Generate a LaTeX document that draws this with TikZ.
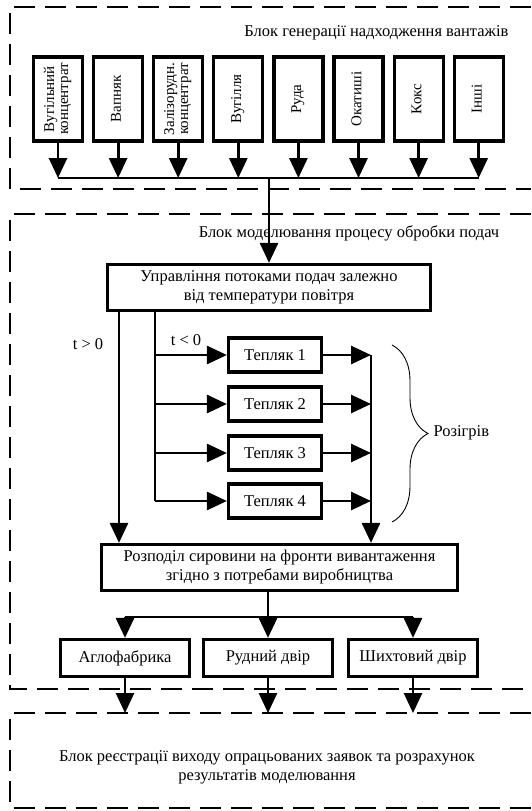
\documentclass[tikz,border=0pt]{standalone}
\usepackage{fontspec}
\setmainfont{Liberation Serif}
\usepackage{graphicx}
\usetikzlibrary{arrows.meta}
\usetikzlibrary{calc}
\usetikzlibrary{decorations.pathreplacing}

\tikzset{
  box/.style={draw, line width=3.2pt, align=center, inner sep=0pt},
  srcbox/.style={box, minimum width=49pt, minimum height=84pt, font=\fontsize{15}{14}\selectfont},
  teplbox/.style={box, minimum width=93pt, minimum height=34pt},
  outbox/.style={box, minimum width=129pt, minimum height=37pt},
  flow/.style={line width=2.8pt},
  arr/.style={flow, -{Triangle[length=20pt,width=18pt]}},
  zone/.style={line width=2.6pt, dash pattern=on 21pt off 10pt},
}

\begin{document}
\begin{tikzpicture}[x=1pt, y=-1pt, font=\fontsize{16.5}{19}\selectfont]
\useasboundingbox (0,0) rectangle (531,811);
% dashed blocks
\draw[zone] (531,7) -| (10,189) -- (531,189);
\draw[zone] (531,214) -| (10,689) -- (531,689);
\draw[zone] (531,713) -| (10,808) -- (531,808);
\node[anchor=east] (gentitle) at (512,33) {Блок генерації надходження вантажів};
\node (modtitle) at (349,233) {Блок моделювання процесу обробки подач};
\node[align=center] (regtitle) at (267,767) {Блок реєстрації виходу опрацьованих заявок та розрахунок\\результатів моделювання};

% sources
\foreach \n/\t in {1/{Вугільний\\концентрат}, 2/Вапняк, 3/{Залізорудн.\\концентрат}, 4/Вугілля, 5/Руда, 6/Окатиші, 7/Кокс, 8/Інші}
  \node[srcbox] (s\n) at ({58+60.1*(\n-1)},99) {\rotatebox{90}{\begin{tabular}{@{}c@{}}\t\end{tabular}}};
\coordinate (bus) at (269,178);
\foreach \n in {1,...,8}
  \draw[arr] (s\n.south) -- (s\n.south |- bus);
\draw[flow] (s1.south |- bus) -- (s8.south |- bus);

% control of flows
\node[box, minimum width=323pt, minimum height=46pt] (ctrl) at (269,287.5) {Управління потоками подач залежно\\від температури повітря};
\draw[arr] (bus) -- (ctrl.north);

\foreach \n/\y in {1/355,2/404,3/453,4/501}
  \node[teplbox] (t\n) at (275,\y) {Тепляк \n};
\coordinate (warm) at (119,312);
\coordinate (cold) at (155,312);
\coordinate (heat) at (371,355);
\node[box, minimum width=356pt, minimum height=46pt] (distr) at (279.5,567.5) {Розподіл сировини на фронти вивантаження\\згідно з потребами виробництва};
\draw[arr] (ctrl.south -| warm) -- (distr.north -| warm);
\draw[flow] (ctrl.south -| cold) -- (cold |- t4.west);
\foreach \n in {1,...,4} {
  \draw[arr] (cold |- t\n.west) -- (t\n.west);
  \draw[arr] (t\n.east) -- (heat |- t\n.east);
}
\draw[arr] (heat) -- (distr.north -| heat);
\node (tpos) at (88,344) {t > 0};
\node (tneg) at (186,340) {t < 0};
\draw[line width=0.9pt, decorate, decoration={brace, amplitude=36pt}] (392,345) -- (392,522);
\node[anchor=west] (heatlbl) at (430,433) {Розігрів};

% outputs
\node[outbox] (agl) at (125,658) {Аглофабрика};
\node[outbox] (rud) at (268,658) {Рудний двір};
\node[outbox] (shykh) at (413,658) {Шихтовий двір};
\coordinate (fork) at (268,617);
\coordinate (regtop) at (10,713);
\draw[flow] (distr.south -| fork) -- (fork);
\draw[flow] (agl.north |- fork) -- (shykh.north |- fork);
\foreach \b in {agl,rud,shykh} {
  \draw[arr] (\b.north |- fork) -- (\b.north);
  \draw[arr] (\b.south) -- (\b.south |- regtop);
}
\end{tikzpicture}
\end{document}
